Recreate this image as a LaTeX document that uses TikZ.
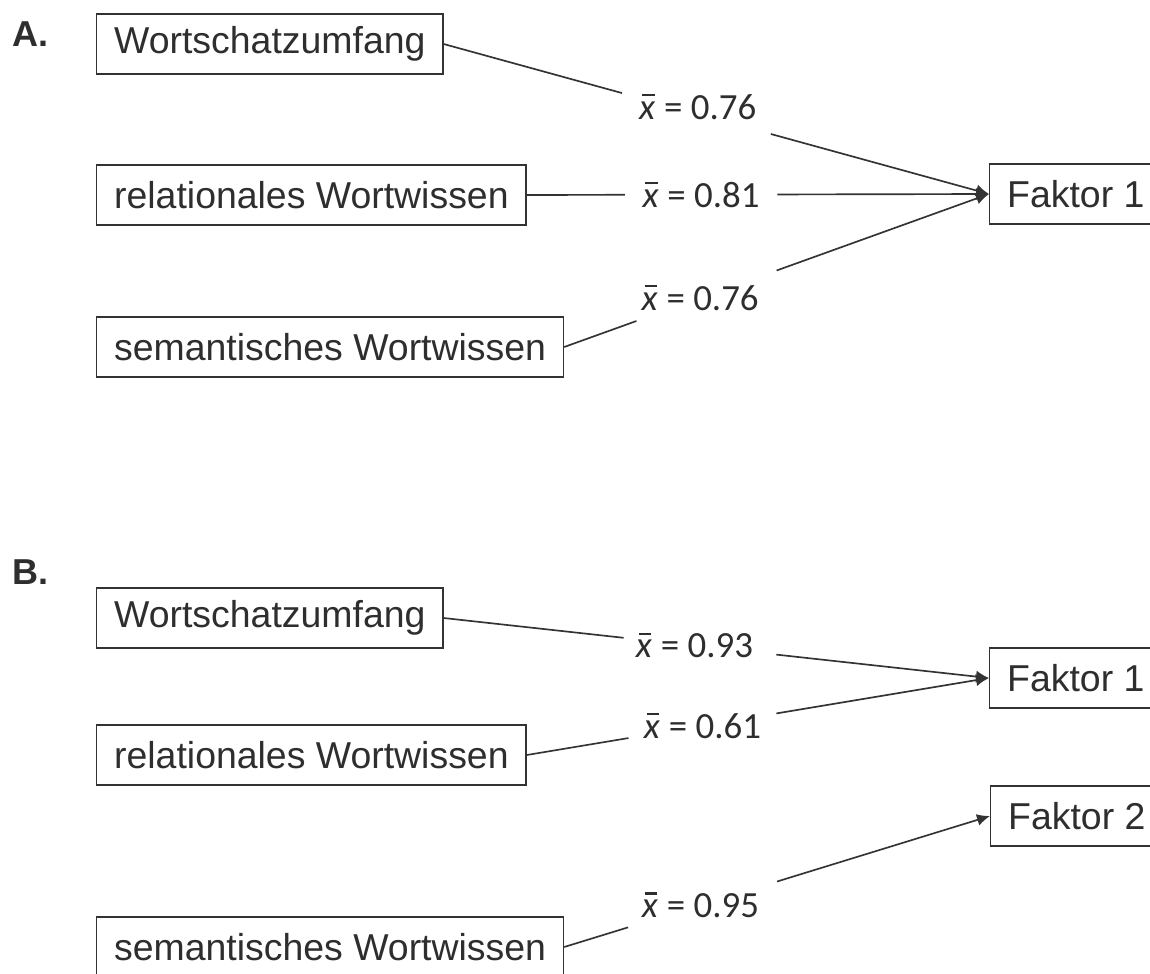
\documentclass[tikz,border=0pt]{standalone}
\usepackage{fontspec}
\setmainfont{Liberation Sans}
\newfontfamily\lblfont{Carlito}
\usetikzlibrary{arrows.meta,calc}
% x with a bar, drawn as a rule
\newcommand{\xm}{\textit{x}\kern-0.36em\rule[0.62em]{0.34em}{0.055em}\kern0.03em}

\begin{document}
\begin{tikzpicture}[
    x=0.02cm, y=-0.02cm,
    >={Latex[length=2.6mm,width=2.4mm]},
    line width=0.95pt,
    draw=black!80,
    var/.style={draw=black!80, line width=0.75pt, text=black!82, anchor=west, minimum height=1.2cm, inner xsep=0.35cm, font=\fontsize{21.3}{25}\selectfont},
    fac/.style={var},
    load/.style={text=black!82, inner sep=0pt, font=\lblfont\fontsize{21}{24}\selectfont},
    panel/.style={text=black!82, font=\bfseries\fontsize{20.5}{24}\selectfont}
]
\useasboundingbox (0,0) rectangle (1150,974);

% panel A
\node[panel] (pa) at (31,34) {A.};
\node[var] (wsa) at (96,44) {Wortschatzumfang};
\node[var] (rwa) at (96,195) {relationales Wortwissen};
\node[var] (swa) at (96,347) {semantisches Wortwissen};
\node[fac] (fa) at (989,194) {Faktor 1};

\node[load, yshift=0.14cm] (la1) at ($(wsa.east)!.466!(fa.west)$) {\xm{} = 0.76};
\node[load] (la2) at ($(rwa.east)!.377!(fa.west)$) {\xm{} = 0.81};
\node[load] (la3) at ($(swa.east)!.32!(fa.west)$) {\xm{} = 0.76};

\draw (wsa.east) -- ($(wsa.east)!.327!(fa.west)$);
\draw[->] ($(wsa.east)!.6!(fa.west)$) -- (fa.west);
\draw (rwa.east) -- ($(rwa.east)!.212!(fa.west)$);
\draw[->] ($(rwa.east)!.542!(fa.west)$) -- (fa.west);
\draw (swa.east) -- ($(swa.east)!.17!(fa.west)$);
\draw[->] ($(swa.east)!.5!(fa.west)$) -- (fa.west);

% panel B
\node[panel] (pb) at (31,572) {B.};
\node[var] (wsb) at (96,618) {Wortschatzumfang};
\node[var] (rwb) at (96,755) {relationales Wortwissen};
\node[var] (swb) at (96,947) {semantisches Wortwissen};
\node[fac] (fb1) at (989,678) {Faktor 1};
\node[fac] (fb2) at (990,816) {Faktor 2};

\node[load] (lb1) at ($(wsb.east)!.46!(fb1.west)$) {\xm{} = 0.93};
\node[load] (lb2) at ($(rwb.east)!.38!(fb1.west)$) {\xm{} = 0.61};
\node[load] (lb3) at ($(swb.east)!.32!(fb2.west)$) {\xm{} = 0.95};

\draw (wsb.east) -- ($(wsb.east)!.33!(fb1.west)$);
\draw[->] ($(wsb.east)!.61!(fb1.west)$) -- (fb1.west);
\draw (rwb.east) -- ($(rwb.east)!.22!(fb1.west)$);
\draw[->] ($(rwb.east)!.54!(fb1.west)$) -- (fb1.west);
\draw (swb.east) -- ($(swb.east)!.15!(fb2.west)$);
\draw[->] ($(swb.east)!.5!(fb2.west)$) -- (fb2.west);
\end{tikzpicture}
\end{document}
